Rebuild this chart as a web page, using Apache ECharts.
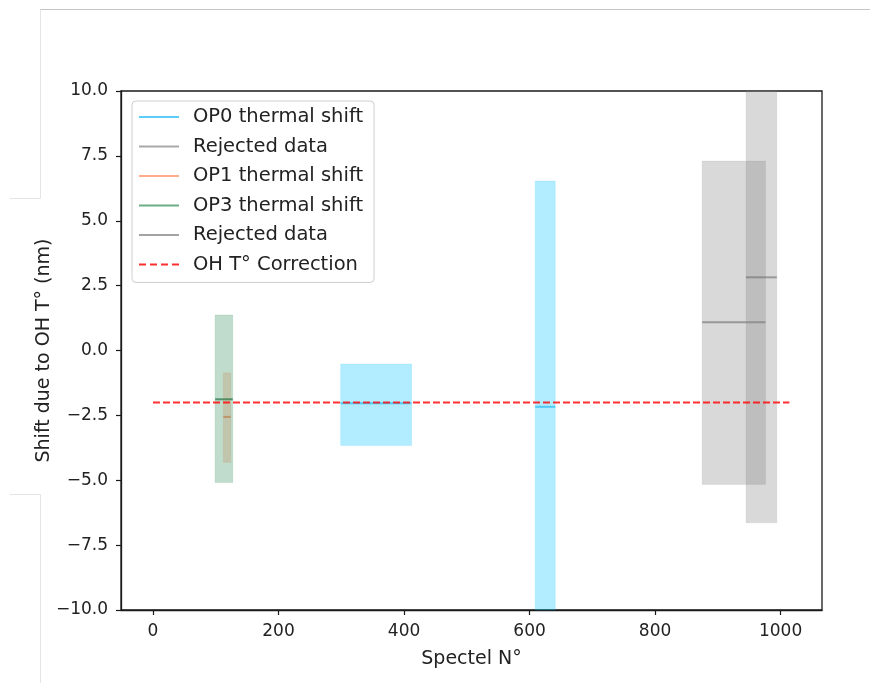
<!DOCTYPE html>
<html>
<head>
<meta charset="utf-8">
<script src="https://cdn.jsdelivr.net/npm/echarts@6/dist/echarts.min.js"></script>
<style>
html,body{margin:0;padding:0;background:#fff;}
#chart{width:870px;height:683px;}
</style>
</head>
<body>
<div id="chart"></div>
<script>
// ---- data (each band: [xStart, xEnd, yLow, yHigh, yCentre]) ----
const xTicks = [0, 200, 400, 600, 800, 1000];
const op0Shift = [[299, 412, -3.66, -0.52, -2.03], [609, 641, -12, 6.53, -2.17]];
const op0Rejected = [[875, 976, -5.16, 7.30, 1.09]];
const op1Shift = [[112, 124, -4.31, -0.86, -2.56]];
const op3Shift = [[99, 127, -5.09, 1.37, -1.88]];
const op3Rejected = [[945, 994, -6.64, 12, 2.82]];
const correctionX = [0, 1014];
const correctionY = -2.0;

const chart = echarts.init(document.getElementById('chart'), null, {renderer: 'canvas'});

function bandRender(fill, stroke, lineColor) {
  return function (params, api) {
    const x0 = api.value(0), x1 = api.value(1), lo = api.value(2), hi = api.value(3), c = api.value(4);
    const p0 = api.coord([x0, hi]);
    const p1 = api.coord([x1, lo]);
    const rect = echarts.graphic.clipRectByRect(
      {x: p0[0], y: p0[1], width: p1[0] - p0[0], height: p1[1] - p0[1]},
      params.coordSys
    );
    const l0 = api.coord([x0, c]);
    const l1 = api.coord([x1, c]);
    const children = [];
    if (rect) children.push({type: 'rect', shape: rect, style: {fill: fill, stroke: stroke, lineWidth: 1}});
    children.push({type: 'line', shape: {x1: l0[0], y1: l0[1], x2: l1[0], y2: l1[1]}, style: {stroke: lineColor, lineWidth: 2}});
    return {type: 'group', children: children};
  };
}

function bandSeries(name, data, fill, stroke, lineColor) {
  return {
    name: name,
    type: 'custom',
    data: data,
    renderItem: bandRender(fill, stroke, lineColor),
    encode: {x: [0, 1], y: [2, 3]},
    silent: true
  };
}

const C = {
  op0: ['rgba(0,191,255,0.3)', 'rgba(0,191,255,0.12)', 'rgba(0,175,240,0.55)', '#5ccdf9'],
  rej: ['rgba(128,128,128,0.3)', 'rgba(128,128,128,0.12)', 'rgba(100,100,100,0.55)', '#a9a9a9'],
  op1: ['rgba(255,160,122,0.35)', 'rgba(255,160,122,0.15)', 'rgba(255,130,90,0.75)', '#ffab8c'],
  op3: ['rgba(46,139,87,0.3)', 'rgba(46,139,87,0.15)', 'rgba(46,120,75,0.75)', '#6aae88'],
  rej2: ['rgba(128,128,128,0.3)', 'rgba(128,128,128,0.12)', 'rgba(100,100,100,0.55)', '#a3a3a3']
};

const linePath = 'path://M0,0L40,0L40,2L0,2Z';
const dashPath = 'path://M0,0h7v2h-7zM11,0h7v2h-7zM22,0h7v2h-7zM33,0h7v2h-7z';

const option = {
  animation: false,
  backgroundColor: '#ffffff',
  grid: {left: 121, top: 91, right: 48, bottom: 73, show: true, borderColor: '#1a1a1a', borderWidth: 1.3, backgroundColor: 'transparent'},
  xAxis: {
    type: 'value', min: -51, max: 1066,
    name: 'Spectel N°', nameLocation: 'middle', nameGap: 40, nameMoveOverlap: false,
    nameTextStyle: {fontFamily: 'DejaVu Sans', fontSize: 19, color: '#222'},
    axisLine: {show: true, onZero: false, lineStyle: {color: '#1a1a1a', width: 1.3}},
    axisTick: {show: true, customValues: xTicks, length: 5, lineStyle: {color: '#1a1a1a', width: 1.2}},
    axisLabel: {customValues: xTicks, fontFamily: 'DejaVu Sans', fontSize: 17, color: '#222', margin: 13,
      formatter: function (v) { return String(v); }},
    splitLine: {show: false}
  },
  yAxis: {
    type: 'value', min: -10, max: 10, interval: 2.5,
    name: 'Shift due to OH T° (nm)', nameLocation: 'middle', nameGap: 67, nameRotate: 90, nameMoveOverlap: false,
    nameTextStyle: {fontFamily: 'DejaVu Sans', fontSize: 19, color: '#222'},
    axisLine: {show: true, onZero: false, lineStyle: {color: '#1a1a1a', width: 1.3}},
    axisTick: {show: true, length: 5, lineStyle: {color: '#1a1a1a', width: 1.2}},
    axisLabel: {fontFamily: 'DejaVu Sans', fontSize: 17, color: '#222', margin: 13,
      formatter: function (v) { return v.toFixed(1).replace('-', '\u2212'); }},
    splitLine: {show: false}
  },
  legend: {
    orient: 'vertical', left: 132, top: 101,
    padding: [6, 11, 8, 7], itemGap: 9.5,
    backgroundColor: '#fff', borderColor: '#cfcfcf', borderWidth: 1, borderRadius: 4,
    itemWidth: 40, itemHeight: 2,
    selectedMode: false,
    formatter: function (n) { return n.trim(); },
    textStyle: {fontFamily: 'DejaVu Sans', fontSize: 19.5, lineHeight: 20, color: '#222', padding: [0, 0, 0, 9]},
    data: [
      {name: 'OP0 thermal shift', icon: linePath, itemStyle: {color: C.op0[3]}},
      {name: 'Rejected data', icon: linePath, itemStyle: {color: C.rej[3]}},
      {name: 'OP1 thermal shift', icon: linePath, itemStyle: {color: C.op1[3]}},
      {name: 'OP3 thermal shift', icon: linePath, itemStyle: {color: C.op3[3]}},
      {name: 'Rejected data ', icon: linePath, itemStyle: {color: C.rej2[3]}},
      {name: 'OH T° Correction', icon: dashPath, itemStyle: {color: '#ff3030'}}
    ]
  },
  graphic: [
    {type: 'line', shape: {x1: 40, y1: 9.5, x2: 870, y2: 9.5}, style: {stroke: '#c4c4c4', lineWidth: 1}, silent: true},
    {type: 'line', shape: {x1: 40.5, y1: 9.5, x2: 40.5, y2: 198.5}, style: {stroke: '#e4e4e4', lineWidth: 1}, silent: true},
    {type: 'line', shape: {x1: 10, y1: 198.5, x2: 40.5, y2: 198.5}, style: {stroke: '#e4e4e4', lineWidth: 1}, silent: true},
    {type: 'line', shape: {x1: 10, y1: 494.5, x2: 40.5, y2: 494.5}, style: {stroke: '#e4e4e4', lineWidth: 1}, silent: true},
    {type: 'line', shape: {x1: 40.5, y1: 494.5, x2: 40.5, y2: 683}, style: {stroke: '#e4e4e4', lineWidth: 1}, silent: true}
  ],
  series: [
    bandSeries('OP0 thermal shift', op0Shift, C.op0[0], C.op0[1], C.op0[2]),
    bandSeries('Rejected data', op0Rejected, C.rej[0], C.rej[1], C.rej[2]),
    bandSeries('OP1 thermal shift', op1Shift, C.op1[0], C.op1[1], C.op1[2]),
    bandSeries('OP3 thermal shift', op3Shift, C.op3[0], C.op3[1], C.op3[2]),
    bandSeries('Rejected data ', op3Rejected, C.rej2[0], C.rej2[1], C.rej2[2]),
    {
      name: 'OH T° Correction', type: 'line', silent: true,
      data: correctionX.map(function (x) { return [x, correctionY]; }),
      symbol: 'none',
      itemStyle: {color: '#ff3030'},
      lineStyle: {color: 'rgba(255,0,0,0.8)', width: 2, type: [7, 3]},
      z: 5
    }
  ]
};
chart.setOption(option);
</script>
</body>
</html>
